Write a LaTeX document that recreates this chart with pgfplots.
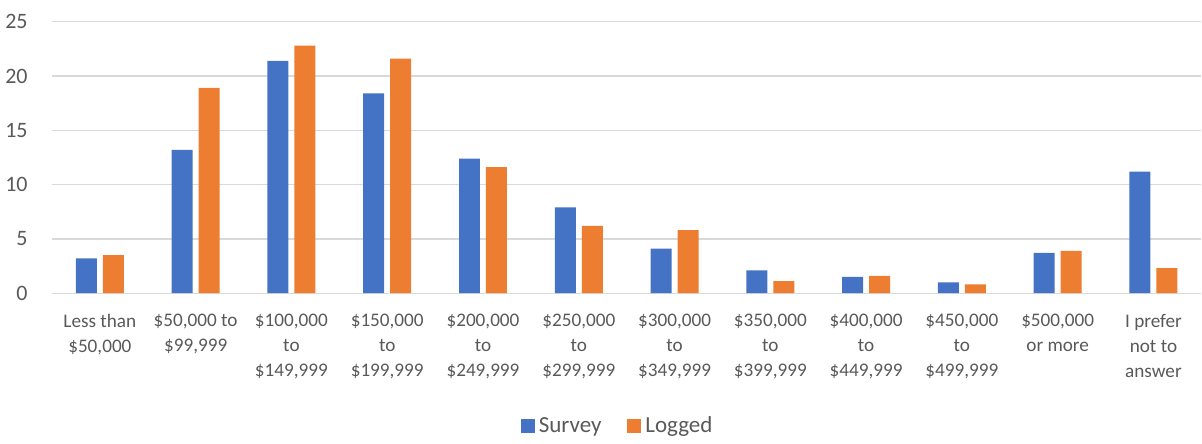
\documentclass[border=0pt]{standalone}
\usepackage{pgfplots}
\pgfplotsset{compat=1.18}
\usepackage{fontspec}
\setmainfont{Carlito}
\definecolor{sblue}{HTML}{4472C4}
\definecolor{sorange}{HTML}{ED7D31}
\definecolor{gridc}{HTML}{D9D9D9}
\definecolor{txt}{HTML}{595959}
\begin{document}
\begin{tikzpicture}
\begin{axis}[
  name=ax,
  scale only axis,
  width=575pt, height=135.8pt,
  ybar, bar width=10.5pt,
  xmin=-0.5, xmax=11.5,
  ymin=0, ymax=25,
  ytick={0,5,10,15,20,25},
  xtick={0,...,11},
  /pgf/number format/assume math mode=true,
  xticklabels={{Less than\\\$50,000},{\$50,000 to\\\$99,999},{\$100,000\\to\\\$149,999},{\$150,000\\to\\\$199,999},{\$200,000\\to\\\$249,999},{\$250,000\\to\\\$299,999},{\$300,000\\to\\\$349,999},{\$350,000\\to\\\$399,999},{\$400,000\\to\\\$449,999},{\$450,000\\to\\\$499,999},{\$500,000\\or more},{I prefer\\not to\\answer}},
  xticklabel style={font=\fontsize{9.6}{12.5}\selectfont, text=txt, align=center, anchor=north, inner sep=0pt, yshift=-10.5pt},
  yticklabel style={font=\fontsize{11}{13}\selectfont, text=txt, anchor=east, inner sep=0pt, xshift=-12pt},
  major tick length=0pt,
  axis line style={draw=none},
  ymajorgrids, grid style={gridc, line width=0.65pt},
  legend style={at={(0.493,-0.49)}, anchor=center, draw=none, legend columns=2,
    font=\fontsize{11.5}{13}\selectfont, text=txt,
    /tikz/every even column/.append style={column sep=11pt}},
  legend cell align=left,
]
\addplot[fill=sblue, draw=none, bar shift=-6.75pt,
  legend image code/.code={\fill[sblue] (0pt,-3.5pt) rectangle (7pt,3.5pt);}]
  coordinates {(0,3.2) (1,13.2) (2,21.4) (3,18.4) (4,12.4) (5,7.9) (6,4.1) (7,2.1) (8,1.5) (9,1.0) (10,3.7) (11,11.2)};
\addlegendentry{Survey}
\addplot[fill=sorange, draw=none, bar shift=6.75pt,
  legend image code/.code={\fill[sorange] (0pt,-3.5pt) rectangle (7pt,3.5pt);}]
  coordinates {(0,3.5) (1,18.9) (2,22.8) (3,21.6) (4,11.6) (5,6.2) (6,5.8) (7,1.1) (8,1.6) (9,0.8) (10,3.9) (11,2.3)};
\addlegendentry{Logged}
\end{axis}
\path ([xshift=-26pt,yshift=-71.35pt]ax.south west) rectangle ([yshift=10.85pt]ax.north east);
\end{tikzpicture}
\end{document}
